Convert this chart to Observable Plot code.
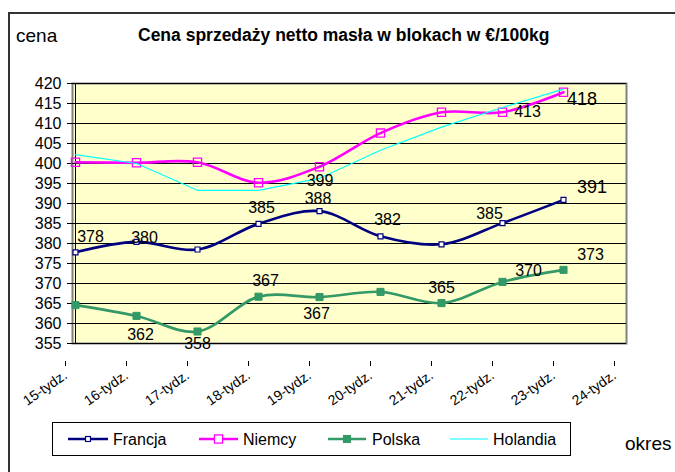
<!DOCTYPE html>
<html><head><meta charset="utf-8">
<script src="https://cdn.jsdelivr.net/npm/d3@7"></script>
<script src="https://cdn.jsdelivr.net/npm/@observablehq/plot@0.6"></script>
<style>
body{margin:0;background:#fff;}
#wrap{position:relative;width:675px;height:472px;overflow:hidden;font-family:"Liberation Sans",Arial,sans-serif;}
#frame{position:absolute;left:8px;top:12px;width:800px;height:600px;border-left:2px solid #333;border-top:2px solid #333;}
#chart{position:absolute;left:0;top:0;}
#over{position:absolute;left:0;top:0;}
</style></head><body>
<div id="wrap"><div id="frame"></div><div id="chart"></div><svg id="over" width="675" height="472"></svg></div>
<script>
// ---- data ----
const weeks = ["15-tydz.","16-tydz.","17-tydz.","18-tydz.","19-tydz.","20-tydz.","21-tydz.","22-tydz.","23-tydz.","24-tydz."];
const francja  = [377.8, 380.4, 378.5, 384.9, 388.1, 381.8, 379.8, 385.1, 390.9];
const niemcy   = [400.3, 400.2, 400.3, 395.2, 399.2, 407.6, 412.8, 412.8, 417.8];
const polska   = [364.6, 361.9, 358.0, 366.7, 366.6, 367.9, 365.1, 370.4, 373.4];
const holandia = [402.2, 400.0, 393.3, 393.3, 396.3, 403.3, 409.1, 414.0, 418.6];
const seriesNames = ["Francja","Niemcy","Polska","Holandia"];
const yTicks = d3.range(355, 421, 5);
const title = "Cena sprzedaży netto masła w blokach w €/100kg";

// ---- styling (not data) ----
const styles = {
  Francja:  {color:"#000080", width:2.6, r:2.8, fill:"white", sw:1.2, curve:"catmull-rom"},
  Niemcy:   {color:"#FF00FF", width:2.6, r:4.6, fill:"none", sw:1.3, curve:"catmull-rom"},
  Polska:   {color:"#339966", width:2.6, r:4.0, fill:"#339966", sw:1, curve:"catmull-rom"},
  Holandia: {color:"#00FFFF", width:1.2, r:0, curve:"linear"}
};
// label offsets (dx, dy, fontSize) per series & week index
const labelOffsets = {
  Francja: {0:[15,-15,16],1:[8,-4.5,16],3:[3,-16,16],4:[-1.5,-12,16],5:[7,-16,16],7:[-13,-9,16],8:[28.5,-13,18]},
  Niemcy:  {4:[0.5,14,16],7:[25,0,16],8:[18.5,7,18]},
  Polska:  {1:[4,19,16],2:[0,12,16],3:[7,-16,16],4:[-3,17,16],6:[0,-15,16],7:[26,-11.5,16],8:[27,-15,16]}
};

const valuesBy = {Francja:francja, Niemcy:niemcy, Polska:polska, Holandia:holandia};
const rows = seriesNames.flatMap(s => valuesBy[s].map((v,i) => ({series:s, week:weeks[i], i, value:v})));
const labelRows = rows.filter(d => labelOffsets[d.series] && labelOffsets[d.series][d.i]);

const marks = [
  Plot.frame({fill:"#FFFFCC", stroke:"#808080", strokeWidth:2}),
  Plot.ruleY(yTicks, {stroke:"black", strokeWidth:1}),
  Plot.ruleX([weeks[0]], {stroke:"black", strokeWidth:1}),
  Plot.axisY({ticks:yTicks, tickSize:5, tickPadding:6, fontSize:16, label:null}),
  Plot.axisX({tickSize:5, tickRotate:-35, fontSize:14, label:null, dx:-10, dy:18})
];
for (const s of seriesNames) {
  const st = styles[s];
  const data = rows.filter(d => d.series === s);
  marks.push(Plot.line(data, {x:"week", y:"value", stroke:st.color, strokeWidth:st.width, curve:st.curve}));
  if (st.r) marks.push(Plot.dot(data, {x:"week", y:"value", symbol:"square", r:st.r, stroke:st.color, fill:st.fill, strokeWidth:st.sw}));
}
for (const d of labelRows) {
  const [dx, dy, fs] = labelOffsets[d.series][d.i];
  marks.push(Plot.text([d], {x:"week", y:"value", text:v => String(Math.round(v.value)), dx, dy, fontSize:fs, fill:"black"}));
}

const chart = Plot.plot({
  width:675, height:472,
  marginLeft:72, marginRight:49, marginTop:83, marginBottom:129,
  x:{type:"point", domain:weeks, padding:0},
  y:{domain:[355,420]},
  style:{fontFamily:'"Liberation Sans", Arial, sans-serif', background:"transparent", color:"black"},
  marks
});
document.getElementById("chart").appendChild(chart);

// ---- overlay text & legend ----
const over = d3.select("#over").style("font-family",'"Liberation Sans", Arial, sans-serif');
over.append("text").attr("x",16).attr("y",42).attr("font-size",19).text("cena");
over.append("text").attr("x",138).attr("y",41).attr("font-size",17.5).attr("font-weight","bold").text(title);
over.append("text").attr("x",625).attr("y",450).attr("font-size",19).text("okres");
over.append("rect").attr("x",52.5).attr("y",422.5).attr("width",518).attr("height",33).attr("fill","white").attr("stroke","black");
const legPos = {Francja:[68,108,113], Niemcy:[199,238,243], Polska:[328,366,372], Holandia:[450,488,493]};
for (const s of seriesNames) {
  const st = styles[s], [x0,x1,tx] = legPos[s];
  over.append("line").attr("x1",x0).attr("x2",x1).attr("y1",439).attr("y2",439).attr("stroke",st.color).attr("stroke-width",st.width);
  if (st.r) {
    const side = st.r*1.77;
    over.append("rect").attr("x",(x0+x1)/2-side/2).attr("y",439-side/2).attr("width",side).attr("height",side)
      .attr("fill", st.fill==="none" ? "white" : st.fill).attr("stroke",st.color).attr("stroke-width",st.sw);
  }
  over.append("text").attr("x",tx).attr("y",444.5).attr("font-size",16).text(s);
}
</script>
</body></html>
